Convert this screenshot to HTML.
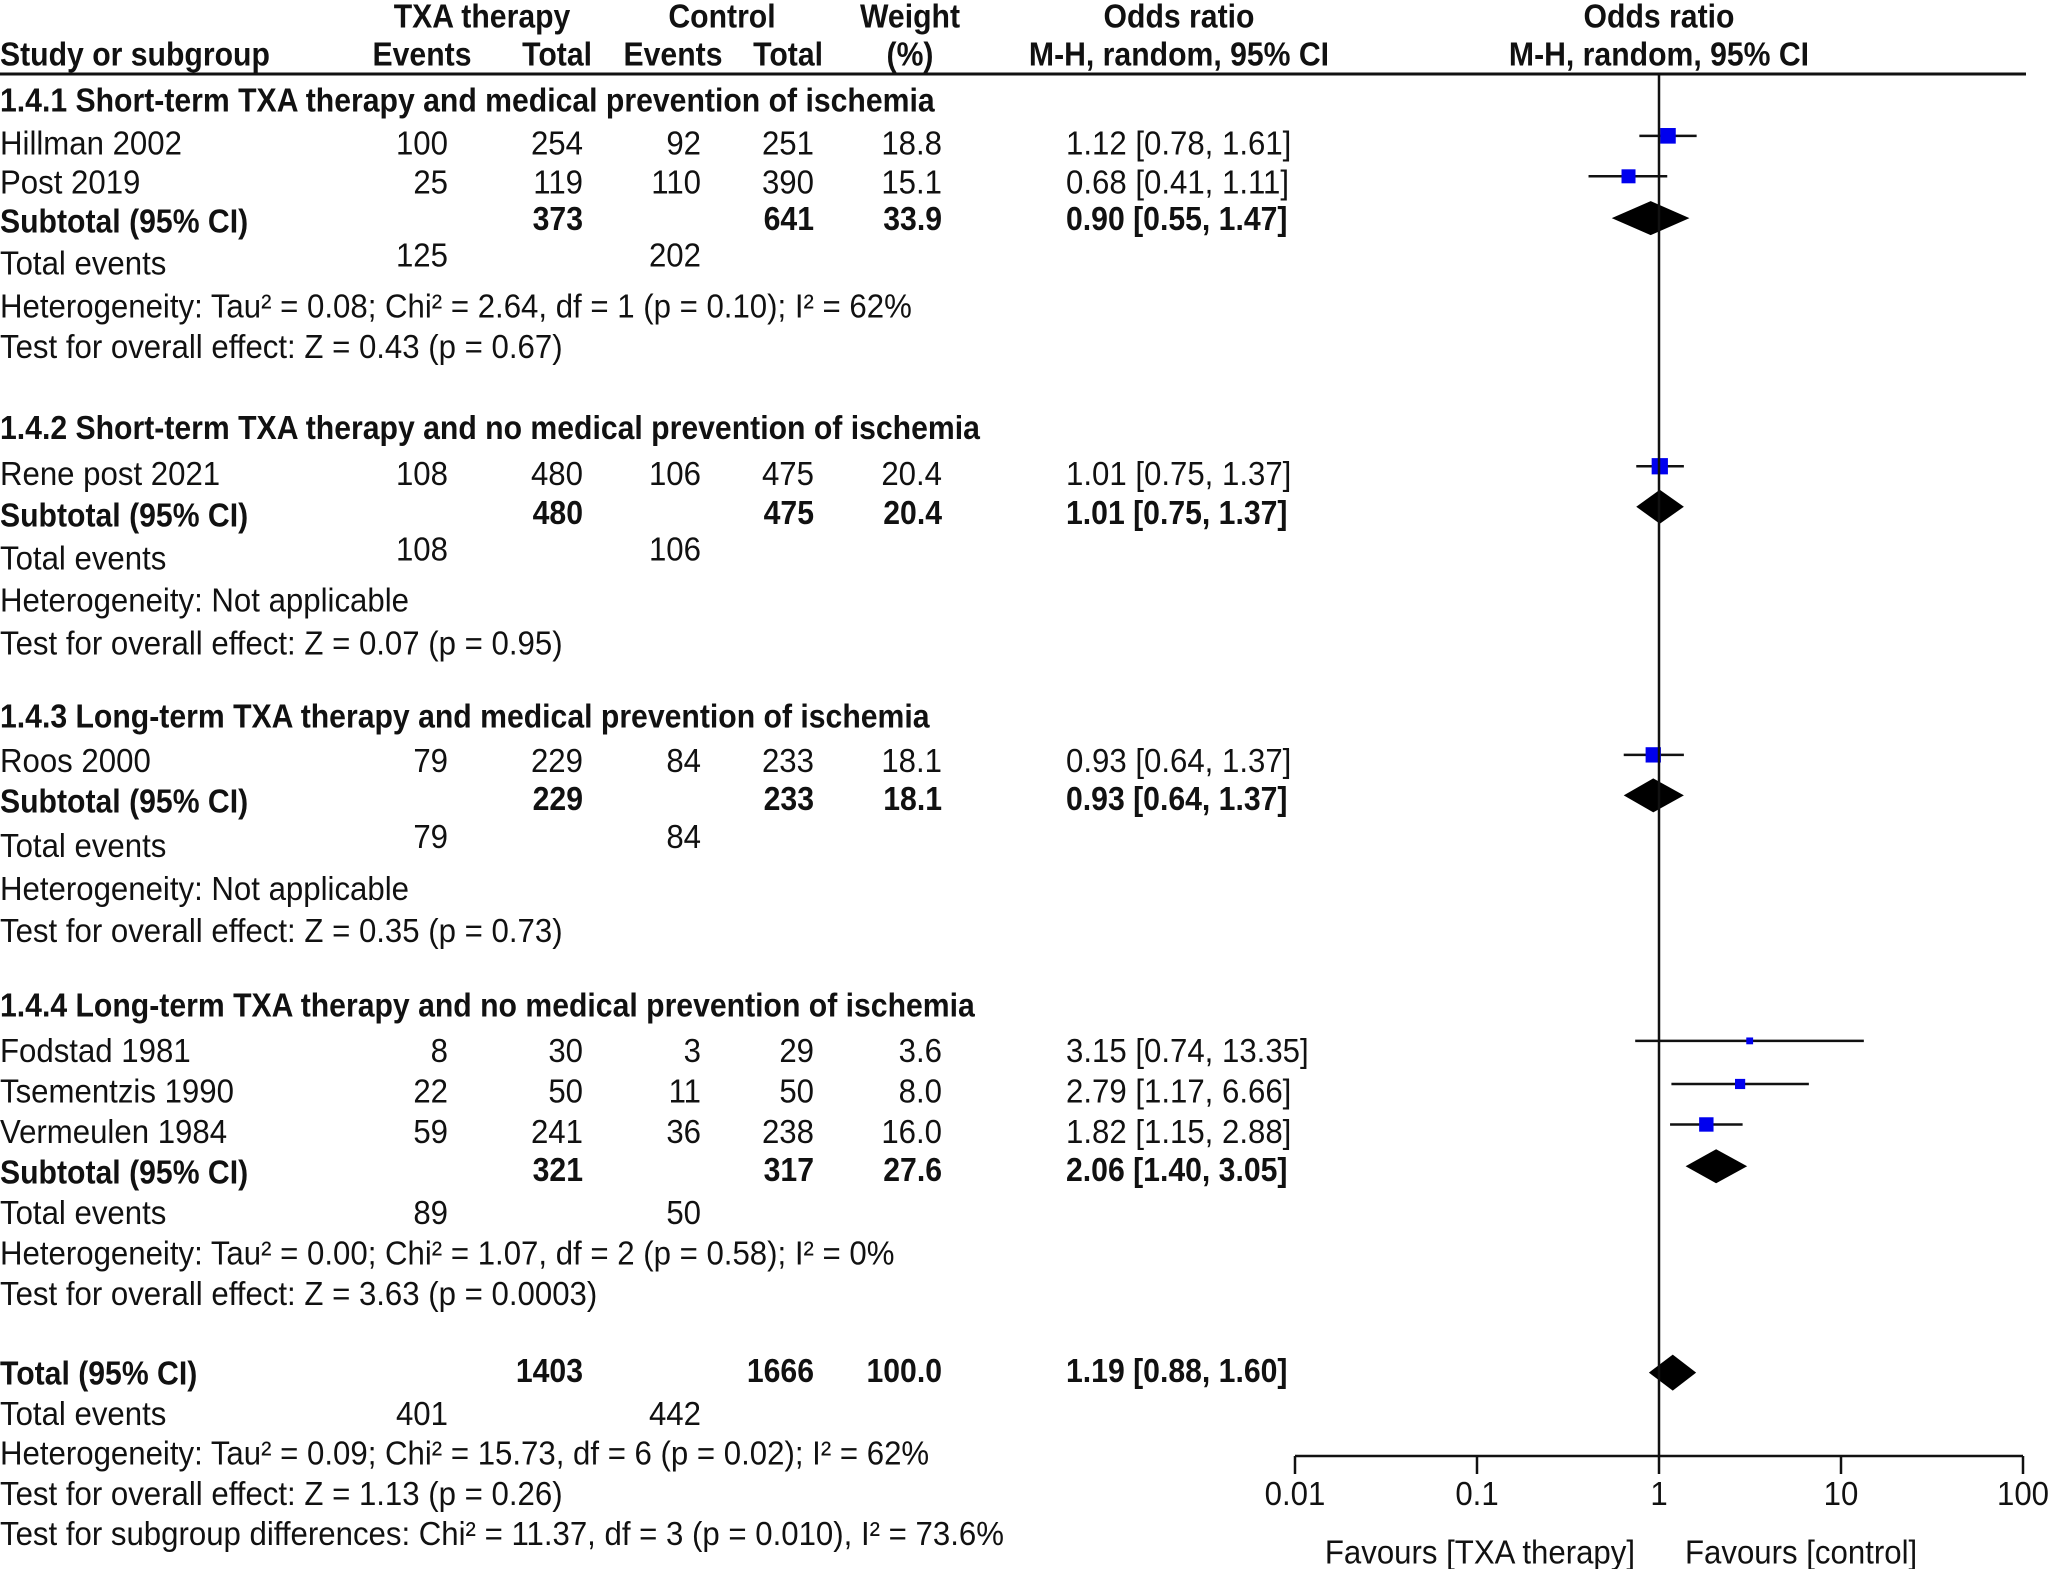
<!DOCTYPE html>
<html><head><meta charset="utf-8"><style>
html,body{margin:0;padding:0;background:#fff;}
svg{display:block;}
text{font-family:"Liberation Sans",Arial,sans-serif;font-size:33px;fill:#111;}
.b{font-weight:bold;}
</style></head><body>
<svg id="chart" width="2048" height="1569" viewBox="0 0 2048 1569" xmlns="http://www.w3.org/2000/svg"></svg>
<script>
// ---- data ----
const studyNames = ["Hillman 2002","Post 2019","Rene post 2021","Roos 2000","Fodstad 1981","Tsementzis 1990","Vermeulen 1984"];
const studyOR = [1.12,0.68,1.01,0.93,3.15,2.79,1.82];
const studyLo = [0.78,0.41,0.75,0.64,0.74,1.17,1.15];
const studyHi = [1.61,1.11,1.37,1.37,13.35,6.66,2.88];
const studyWeight = [18.8,15.1,20.4,18.1,3.6,8.0,16.0];
const studyEv1 = [100,25,108,79,8,22,59];
const studyTot1 = [254,119,480,229,30,50,241];
const studyEv2 = [92,110,106,84,3,11,36];
const studyTot2 = [251,390,475,233,29,50,238];
const subOR = [0.90,1.01,0.93,2.06,1.19];
const subLo = [0.55,0.75,0.64,1.40,0.88];
const subHi = [1.47,1.37,1.37,3.05,1.60];
const tickValues = [0.01,0.1,1,10,100];
const tickLabels = ["0.01","0.1","1","10","100"];

const S = 1.306, SXR = 0.945, SXB = 0.915;
const svg = document.getElementById('chart');
const NS = "http://www.w3.org/2000/svg";
function xs(v){ return 1659 + 182*Math.log10(v); }
function el(tag, attrs){ const e=document.createElementNS(NS,tag); for(const k in attrs) e.setAttribute(k,attrs[k]); svg.appendChild(e); return e; }
function txt(s, x, yDisp, anchor, bold, name){
  const t = el('text',{transform:`translate(${x},${yDisp*S+12}) scale(${bold?SXB:SXR},1)`,'text-anchor':anchor||'start'});
  if(bold) t.setAttribute('class','b');
  
  
  t.textContent = s; return t;
}
const cEv1=448, cTot1=583, cEv2=701, cTot2=814, cW=942, cCI=1066;
txt("TXA therapy",482,12,'middle',1,'header-txa');
txt("Control",722,12,'middle',1,'header-control');
txt("Weight",910,12,'middle',1,'header-weight');
txt("Odds ratio",1179,12,'middle',1,'header-or');
txt("Odds ratio",1659,12,'middle',1,'header-or-plot');
txt("Study or subgroup",0,41,'start',1,'header-study');
txt("Events",422,41,'middle',1,'header-events-txa');
txt("Total",592,41,'end',1,'header-total-txa');
txt("Events",673,41,'middle',1,'header-events-control');
txt("Total",823,41,'end',1,'header-total-control');
txt("(%)",910,41,'middle',1,'header-pct');
txt("M-H, random, 95% CI",1179,41,'middle',1,'header-mh');
txt("M-H, random, 95% CI",1659,41,'middle',1,'header-mh-plot');
const hl = el('line',{x1:0,y1:74,x2:2026,y2:74,stroke:'#111','stroke-width':3});
 

const studyRowY = [109,139,362,582,804,835,866];
const studyMarkY = [104,135,357,578,797,830,861];
const subRowY = [169,394,613,897,1051];
const subMarkY = [167,388,609,893,1051];
const groupTitles = ["1.4.1 Short-term TXA therapy and medical prevention of ischemia","1.4.2 Short-term TXA therapy and no medical prevention of ischemia","1.4.3 Long-term TXA therapy and medical prevention of ischemia","1.4.4 Long-term TXA therapy and no medical prevention of ischemia"];
const groupTitleY = [76,327,548,769];
groupTitles.forEach((g,i)=>txt(g,0,groupTitleY[i],'start',1,'subgroup-title'));

function f2(v){return v.toFixed(2);}
studyNames.forEach((n,i)=>{
  const y=studyRowY[i];
  txt(n,0,y,'start',0,'study-name');
  txt(String(studyEv1[i]),cEv1,y,'end',0,'txa-events');
  txt(String(studyTot1[i]),cTot1,y,'end',0,'txa-total');
  txt(String(studyEv2[i]),cEv2,y,'end',0,'control-events');
  txt(String(studyTot2[i]),cTot2,y,'end',0,'control-total');
  txt(studyWeight[i].toFixed(1),cW,y,'end',0,'weight');
  txt(`${f2(studyOR[i])} [${f2(studyLo[i])}, ${f2(studyHi[i])}]`,cCI,y,'start',0,'odds-ratio-ci');
  const my=studyMarkY[i]*S;
  const ci=el('line',{x1:xs(studyLo[i]),x2:xs(studyHi[i]),y1:my,y2:my,stroke:'#111','stroke-width':2.5});
   
  const s=3.6*Math.sqrt(studyWeight[i]);
  const sq=el('rect',{x:xs(studyOR[i])-s/2,y:my-s/2,width:s,height:s,fill:'#0000ee'});
   
});
const subTot1=[373,480,229,321,1403], subTot2=[641,475,233,317,1666], subW=[33.9,20.4,18.1,27.6,100.0];
subRowY.forEach((y,i)=>{
  txt(i<4?"Subtotal (95% CI)":"Total (95% CI)",0,y,'start',1,i<4?'subtotal-label':'total-label');
  txt(String(subTot1[i]),cTot1,y-2,'end',1,'txa-total');
  txt(String(subTot2[i]),cTot2,y-2,'end',1,'control-total');
  txt(subW[i].toFixed(1),cW,y-2,'end',1,'weight');
  txt(`${f2(subOR[i])} [${f2(subLo[i])}, ${f2(subHi[i])}]`,cCI,y-2,'start',1,'pooled-or-ci');
  const my=subMarkY[i]*S, h=i<4?17:18;
  const d=el('polygon',{points:`${xs(subLo[i])},${my} ${xs(subOR[i])},${my-h} ${xs(subHi[i])},${my} ${xs(subOR[i])},${my+h}`,fill:'#000'});
   
});
const teY=[[201,195],[427,420],[647,640],[928,928],[1082,1082]];
const te1=[125,108,79,89,401], te2=[202,106,84,50,442];
teY.forEach((p,i)=>{
  txt("Total events",0,p[0],'start',0,'total-events-label');
  txt(String(te1[i]),cEv1,p[1],'end',0,'txa-total-events');
  txt(String(te2[i]),cEv2,p[1],'end',0,'control-total-events');
});
const stats=[
 ["Heterogeneity: Tau² = 0.08; Chi² = 2.64, df = 1 (p = 0.10); I² = 62%",234],
 ["Test for overall effect: Z = 0.43 (p = 0.67)",265],
 ["Heterogeneity: Not applicable",459],
 ["Test for overall effect: Z = 0.07 (p = 0.95)",492],
 ["Heterogeneity: Not applicable",680],
 ["Test for overall effect: Z = 0.35 (p = 0.73)",712],
 ["Heterogeneity: Tau² = 0.00; Chi² = 1.07, df = 2 (p = 0.58); I² = 0%",959],
 ["Test for overall effect: Z = 3.63 (p = 0.0003)",990],
 ["Heterogeneity: Tau² = 0.09; Chi² = 15.73, df = 6 (p = 0.02); I² = 62%",1112],
 ["Test for overall effect: Z = 1.13 (p = 0.26)",1143],
 ["Test for subgroup differences: Chi² = 11.37, df = 3 (p = 0.010), I² = 73.6%",1174]];
stats.forEach(s=>txt(s[0],0,s[1],'start',0,'statistics-text'));

const axY=1456;
const vl=el('line',{x1:xs(1),x2:xs(1),y1:74,y2:axY,stroke:'#111','stroke-width':2.5});
 
const ax=el('line',{x1:xs(0.01),x2:xs(100),y1:axY,y2:axY,stroke:'#111','stroke-width':2.5});
 
tickValues.forEach((v,i)=>{
  const t=el('line',{x1:xs(v),x2:xs(v),y1:axY,y2:axY+18,stroke:'#111','stroke-width':2.5});
   
  txt(tickLabels[i],xs(v),1143,'middle',0,'x-tick-label');
});
txt("Favours [TXA therapy]",1635,1188,'end',0,'favours-txa-label');
txt("Favours [control]",1685,1188,'start',0,'favours-control-label');
</script>
</body></html>
